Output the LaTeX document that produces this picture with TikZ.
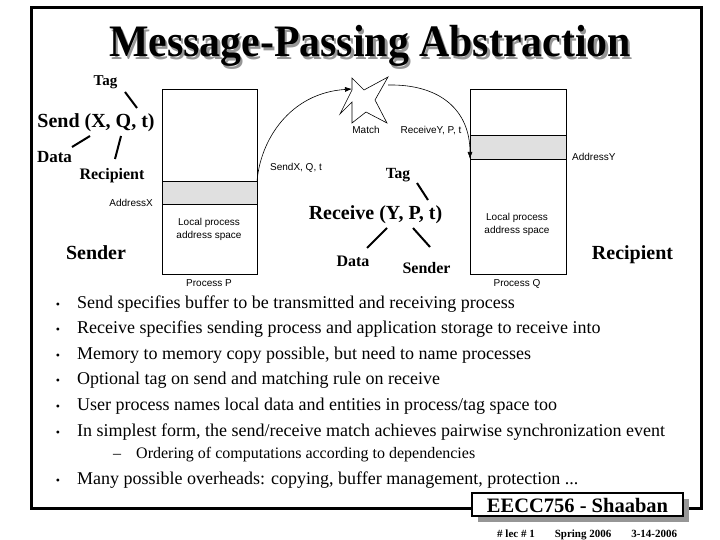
\documentclass[tikz,border=0pt]{standalone}
\usepackage{fontspec}
\setmainfont{Liberation Serif}
\newfontfamily\arialf{Liberation Sans}
\usetikzlibrary{arrows.meta}
\definecolor{bandgray}{RGB}{224,224,224}
\definecolor{shadowgray}{RGB}{150,150,150}
\newcommand\shadowtext[1]{\makebox[0pt][l]{\hspace{2.5pt}\raisebox{-2.5pt}{\textcolor{shadowgray}{#1}}}#1}
\begin{document}
\begin{tikzpicture}[x=1pt,y=-1pt,
  frame/.style={line width=3.3pt},
  lbl/.style={font=\bfseries\fontsize{16}{18}\selectfont, inner sep=0pt, anchor=base},
  biglbl/.style={font=\bfseries\fontsize{20}{22}\selectfont, inner sep=0pt, anchor=base},
  small/.style={font=\arialf\fontsize{10}{12}\selectfont, inner sep=0pt, anchor=base},
  tick/.style={line width=2pt},
  mem/.style={draw, line width=0.8pt},
  band/.style={fill=bandgray, draw, line width=0.8pt},
  bul/.style={font=\fontsize{18}{20}\selectfont, anchor=base west, inner sep=0pt},
  subbul/.style={font=\fontsize{16}{18}\selectfont, anchor=base west, inner sep=0pt},
  dot/.style={font=\fontsize{12}{14}\selectfont, anchor=base, inner sep=0pt},
  msgarc/.style={line width=0.6pt, -{Latex[length=7pt,width=5pt]}},
]
\useasboundingbox (0,0) rectangle (720,540);
\fill[white] (0,0) rectangle (720,540);
% frame
\draw[frame] (31.7,7.7) rectangle (701.7,508.5);
% title with shadow
\node[font=\bfseries\fontsize{45}{50}\selectfont, anchor=base, inner sep=0pt] (title) at (370,57) {\scalebox{0.93}[1]{\shadowtext{Message-Passing Abstraction}}};

% ---- sender side labels
\node[lbl, font=\bfseries\fontsize{15}{17}\selectfont] (tagL) at (105.5,86) {Tag};
\node[biglbl] (sendL) at (96,128) {Send (X, Q, t)};
\node[lbl, font=\bfseries\fontsize{17}{19}\selectfont] (dataL) at (54.5,163) {Data};
\node[lbl] (recipL) at (112,180) {Recipient};
\node[biglbl] (senderL) at (96,259) {Sender};
\coordinate (tagLa) at (125,92); \coordinate (tagLb) at (137,108);
\coordinate (dataLa) at (72,147); \coordinate (dataLb) at (90,136);
\coordinate (recLa) at (121,136); \coordinate (recLb) at (115,159);
\draw[tick] (tagLa) -- (tagLb);
\draw[tick] (dataLa) -- (dataLb);
\draw[tick] (recLa) -- (recLb);

% ---- process P
\draw[mem] (162,89) rectangle (257,274);
\draw[band] (162,181) rectangle (257,204);
\coordinate (bufX) at (257,182);
\node[small, anchor=base east] (addrX) at (153,206.5) {AddressX};
\node[small] (localP) at (209,225.5) {Local process};
\node[small] (localP2) at (209,238.5) {address space};
\node[small] (procP) at (209,286.5) {Process P};
\node[small] (sendlbl) at (296,170.5) {SendX, Q, t};

% ---- match star
\draw[line width=0.6pt, fill=white] (352,78) -- (364,90) -- (388,77) -- (375,100) -- (387,123)
  -- (366,112) -- (352,123) -- (352,102) -- (340,114) -- (352,90) -- cycle;
\coordinate (starL) at (352,89);
\coordinate (starR) at (388,85);
\node[small] (match) at (366,133.5) {Match};
\node[small] (recvlbl) at (431,133.5) {ReceiveY, P, t};

% ---- process Q
\draw[mem] (470,89) rectangle (566,274);
\draw[band] (470,135) rectangle (566,159);
\coordinate (bufY) at (470,159);
\node[small, anchor=base west] (addrY) at (572,160.5) {AddressY};
\node[small] (localQ) at (517,220.5) {Local process};
\node[small] (localQ2) at (517,233.5) {address space};
\node[small] (procQ) at (517,286.5) {Process Q};

% ---- arcs
\draw[msgarc] (bufX) .. controls (260,140) and (290,93) .. (starL);
\draw[msgarc] (starR) .. controls (440,84) and (470,110) .. (bufY);

% ---- receiver side labels
\node[lbl, font=\bfseries\fontsize{15.5}{17}\selectfont] (tagR) at (398,179) {Tag};
\node[biglbl] (recvR) at (375.5,220) {Receive (Y, P, t)};
\node[lbl] (dataR) at (353,266) {Data};
\node[lbl] (senderR) at (426.5,273) {Sender};
\node[biglbl] (recipR) at (632.5,259) {Recipient};
\coordinate (tagRa) at (417,183); \coordinate (tagRb) at (428,200);
\coordinate (dataRa) at (387,228); \coordinate (dataRb) at (367,248);
\coordinate (sndRa) at (413,228); \coordinate (sndRb) at (430,247);
\draw[tick] (tagRa) -- (tagRb);
\draw[tick] (dataRa) -- (dataRb);
\draw[tick] (sndRa) -- (sndRb);

% ---- bullets
\foreach \yy/\txt [count=\i] in {
  308/{Send specifies buffer to be transmitted and receiving process},
  333/{Receive specifies sending process and application storage to receive into},
  359/{Memory to memory copy possible, but need to name processes},
  384/{Optional tag on send and matching rule on receive},
  410/{User process names local data and entities in process/tag space too},
  436/{In simplest form, the send/receive match achieves pairwise synchronization event},
  484/{Many possible overheads: copying, buffer management, protection ...}}{
  \node[dot] (b\i) at (58,\yy) {•};
  \node[bul] (t\i) at (77,\yy) {\txt};
}
\node[subbul] (dash1) at (113,458) {–};
\node[subbul] (s1) at (136,458) {Ordering of computations according to dependencies};

% ---- footer box
\fill[shadowgray] (478,499) rectangle (689,522);
\draw[line width=2pt, fill=white] (472,493) rectangle (683,516);
\node[font=\bfseries\fontsize{20.5}{22}\selectfont, anchor=base, inner sep=0pt] (eecc) at (577.5,512) {EECC756 - Shaaban};
\node[font=\bfseries\fontsize{11}{12}\selectfont, anchor=base west, inner sep=0pt] (foot) at (497,537) {\#\ lec \# 1\hspace{20pt}Spring 2006\hspace{20pt}3-14-2006};
\end{tikzpicture}
\end{document}
